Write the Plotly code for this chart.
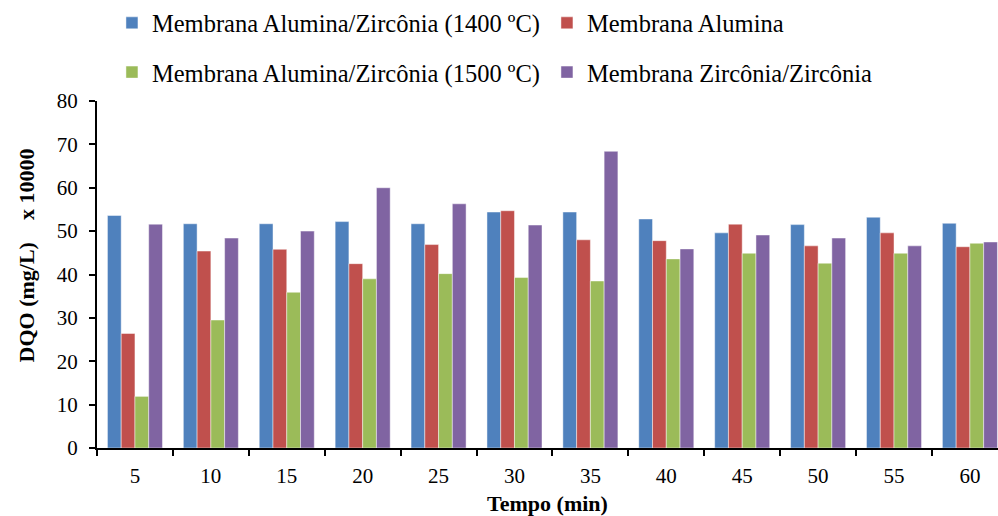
import plotly.graph_objects as go

categories = ["5", "10", "15", "20", "25", "30", "35", "40", "45", "50", "55", "60"]
s_1400 = [53.6, 51.7, 51.7, 52.2, 51.7, 54.4, 54.4, 52.8, 49.6, 51.5, 53.2, 51.8]
s_alumina = [26.4, 45.4, 45.8, 42.5, 46.9, 54.7, 48.0, 47.8, 51.6, 46.6, 49.6, 46.4]
s_1500 = [11.9, 29.5, 35.9, 39.0, 40.2, 39.3, 38.5, 43.6, 44.9, 42.6, 44.9, 47.2]
s_zirc = [51.6, 48.4, 50.0, 60.0, 56.3, 51.4, 68.4, 45.9, 49.1, 48.4, 46.6, 47.5]

names = [
    "Membrana Alumina/Zircônia (1400 ºC)",
    "Membrana Alumina",
    "Membrana Alumina/Zircônia (1500 ºC)",
    "Membrana Zircônia/Zircônia",
]
colors = ["#4F81BD", "#C0504D", "#9BBB59", "#8064A2"]
series = [s_1400, s_alumina, s_1500, s_zirc]
legends = ["legend", "legend", "legend2", "legend2"]

y_title = "<b>DQO (mg/L)\u00a0\u00a0\u00a0\u00a0x 10000</b>"
x_title = "<b>Tempo (min)</b>"

FONT = "Liberation Serif"

fig = go.Figure()
for name, col, vals, lg in zip(names, colors, series, legends):
    fig.add_trace(go.Bar(
        x=categories, y=vals, name=name, legend=lg,
        marker=dict(color=col, line=dict(color="rgba(255,255,255,0.45)", width=1)),
    ))

legend_common = dict(
    orientation="h", xanchor="left", yanchor="middle",
    font=dict(family=FONT, size=24.5, color="#000"),
    bgcolor="rgba(0,0,0,0)", entrywidth=390, entrywidthmode="pixels",
    itemwidth=30, tracegroupgap=0,
)

fig.update_layout(
    width=998, height=516,
    margin=dict(l=97, r=0, t=101, b=68),
    paper_bgcolor="white", plot_bgcolor="white",
    barmode="group", bargap=0.275, bargroupgap=0,
    font=dict(family=FONT, size=21, color="#000"),
    legend=dict(x=0.0166, y=1.225, **legend_common),
    legend2=dict(x=0.0166, y=1.083, **legend_common),
    xaxis=dict(
        type="category", range=[-0.5, 11.37],
        showline=True, linecolor="#000", linewidth=2,
        ticks="outside", tickson="boundaries", ticklen=6, tickwidth=2, tickcolor="#000",
        showgrid=False, zeroline=False, ticklabelstandoff=8,
        tickfont=dict(family=FONT, size=21, color="#000"),
        title=dict(text=x_title, font=dict(family=FONT, size=22, color="#000"), standoff=10),
    ),
    yaxis=dict(
        range=[0, 80], dtick=10,
        showline=True, linecolor="#000", linewidth=2,
        ticks="outside", ticklen=6, tickwidth=2, tickcolor="#000",
        showgrid=False, zeroline=False, ticklabelstandoff=7,
        tickfont=dict(family=FONT, size=21, color="#000"),
    ),
    annotations=[dict(
        text=y_title, textangle=-90, showarrow=False,
        xref="paper", yref="paper", x=-0.0788, y=0.5548,
        xanchor="center", yanchor="middle",
        font=dict(family=FONT, size=22, color="#000"),
    )],
)

fig.write_html("out.html")
